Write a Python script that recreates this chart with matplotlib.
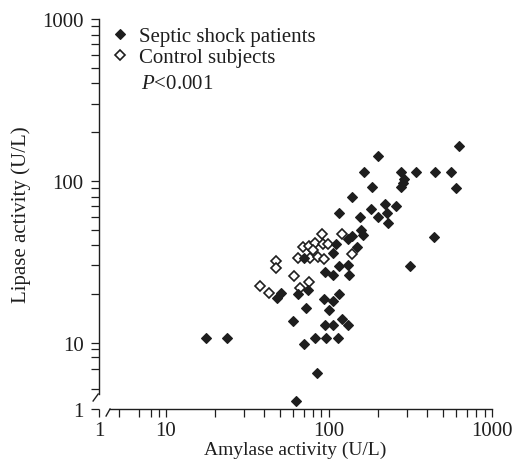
import numpy as np
import matplotlib
matplotlib.use("Agg")
import matplotlib.pyplot as plt

# values (U/L)
septic_amylase = [628, 201, 165, 277, 342, 447, 560, 289, 283, 275,
                  183, 601, 139, 221, 258, 181, 116, 155, 199, 228,
                  231, 157, 162, 138, 130, 443, 110, 106, 148, 314,
                  94.5, 106, 116, 131, 133, 70.5, 50.8, 47.8, 64.8, 74.6,
                  115, 93.8, 106, 100, 72.3, 59.9, 121, 130, 94.9, 106,
                  17.6, 23.7, 82.6, 96.2, 114, 70, 84.4, 63]
septic_lipase = [164, 142, 114, 114, 114, 114, 114, 103, 97, 91,
                 91, 90, 80, 72, 70, 66.5, 63, 60, 60, 63,
                 55, 50, 46.4, 45.6, 43.4, 45, 40.8, 35.8, 39, 29.7,
                 27.5, 26, 29.7, 30, 26.2, 33.3, 20.4, 18.9, 20, 21.2,
                 20.1, 18.5, 18.2, 16, 16.4, 13.7, 14.1, 12.8, 12.9, 12.9,
                 10.7, 10.7, 10.7, 10.7, 10.7, 9.4, 3.5, 1.32]

control_amylase = [90.2, 121, 69.2, 75.2, 82.6, 92.2, 98.6, 80.1, 64.8, 76.4,
                   85.2, 93.4, 138, 47.6, 47.6, 61.2, 75.7, 37.9, 43.2, 66.4]
control_lipase = [47.1, 46.7, 39, 39.7, 41.4, 40.5, 40.5, 37.2, 33.2, 33.2,
                  33.8, 33.1, 35.1, 31.9, 28.8, 25.7, 23.7, 22.4, 20.4, 21.8]

major_ticks = [1, 10, 100, 1000]
major_labels = ["1", "10", "100", "1000"]
minor_ticks = [2, 4, 6, 8] + [m * 10 ** d for d in (1, 2) for m in range(2, 10)]

# log axis, with the decade between 1 and 10 squeezed (broken axis)
R = 0.41


def fwd(v):
    lv = np.log10(np.clip(np.asarray(v, float), 1e-6, None))
    return np.where(lv >= 1, lv, 1 - (1 - lv) * R)


def inv(t):
    t = np.asarray(t, float)
    return np.where(t >= 1, 10 ** t, 10 ** (1 - (1 - t) / R))


plt.rcParams["font.family"] = ["Liberation Serif", "DejaVu Serif"]
plt.rcParams["mathtext.fontset"] = "custom"
plt.rcParams["mathtext.rm"] = "Liberation Serif"
plt.rcParams["mathtext.it"] = "Liberation Serif:italic"

ink = "#1e1e1e"
fs = 15
fig = plt.figure(figsize=(5.13, 4.6), dpi=100)
ax = fig.add_axes([99 / 513, 50 / 460, 393 / 513, 390 / 460])
ax.set_xscale("function", functions=(fwd, inv))
ax.set_yscale("function", functions=(fwd, inv))
ax.set_xlim(1, 1000)
ax.set_ylim(1, 1000)

ax.plot(control_amylase, control_lipase, "D", ms=4.9, mfc="white", mec=ink,
        mew=1.2, ls="none", label="Control subjects", zorder=3)
ax.plot(septic_amylase, septic_lipase, "D", ms=4.9, mfc=ink, mec=ink,
        mew=0.8, ls="none", label="Septic shock patients", zorder=4)

for axis in (ax.xaxis, ax.yaxis):
    axis.set_ticks(major_ticks, labels=major_labels)
    axis.set_ticks(minor_ticks, minor=True)
ax.tick_params(which="both", direction="out", length=6, width=0.9,
               color=ink, labelcolor=ink, labelsize=fs)
ax.tick_params(axis="y", pad=5)
ax.tick_params(axis="x", pad=2.5)

for s in ("top", "right"):
    ax.spines[s].set_visible(False)
for s in ("left", "bottom"):
    ax.spines[s].set_linewidth(1.0)
    ax.spines[s].set_color(ink)
ax.spines["left"].set_bounds(1.69, 1000)
ax.spines["bottom"].set_bounds(1.46, 1000)

# break marks
ax.plot([-0.015, -0.002], [0.0205, 0.0385], transform=ax.transAxes,
        color=ink, lw=1.0, clip_on=False)
ax.plot([0.018, 0.028], [-0.018, 0.0], transform=ax.transAxes,
        color=ink, lw=1.0, clip_on=False)

ax.set_xlabel("Amylase activity (U/L)", fontsize=14, color=ink)
ax.xaxis.set_label_coords(0.5, -0.08)
ax.set_ylabel("Lipase activity (U/L)", fontsize=fs, color=ink, labelpad=8)

h, l = ax.get_legend_handles_labels()
ax.legend(h[::-1], l[::-1], loc="upper left", bbox_to_anchor=(0.03, 0.98),
          frameon=False, fontsize=fs, labelspacing=0.07, handlelength=0.9,
          handletextpad=0.45, borderpad=0, borderaxespad=0, labelcolor=ink)
ax.text(0.108, 0.835, "$P$<0.001", transform=ax.transAxes, fontsize=fs,
        color=ink, va="center", ha="left")

fig.savefig("out.png", dpi=100)
